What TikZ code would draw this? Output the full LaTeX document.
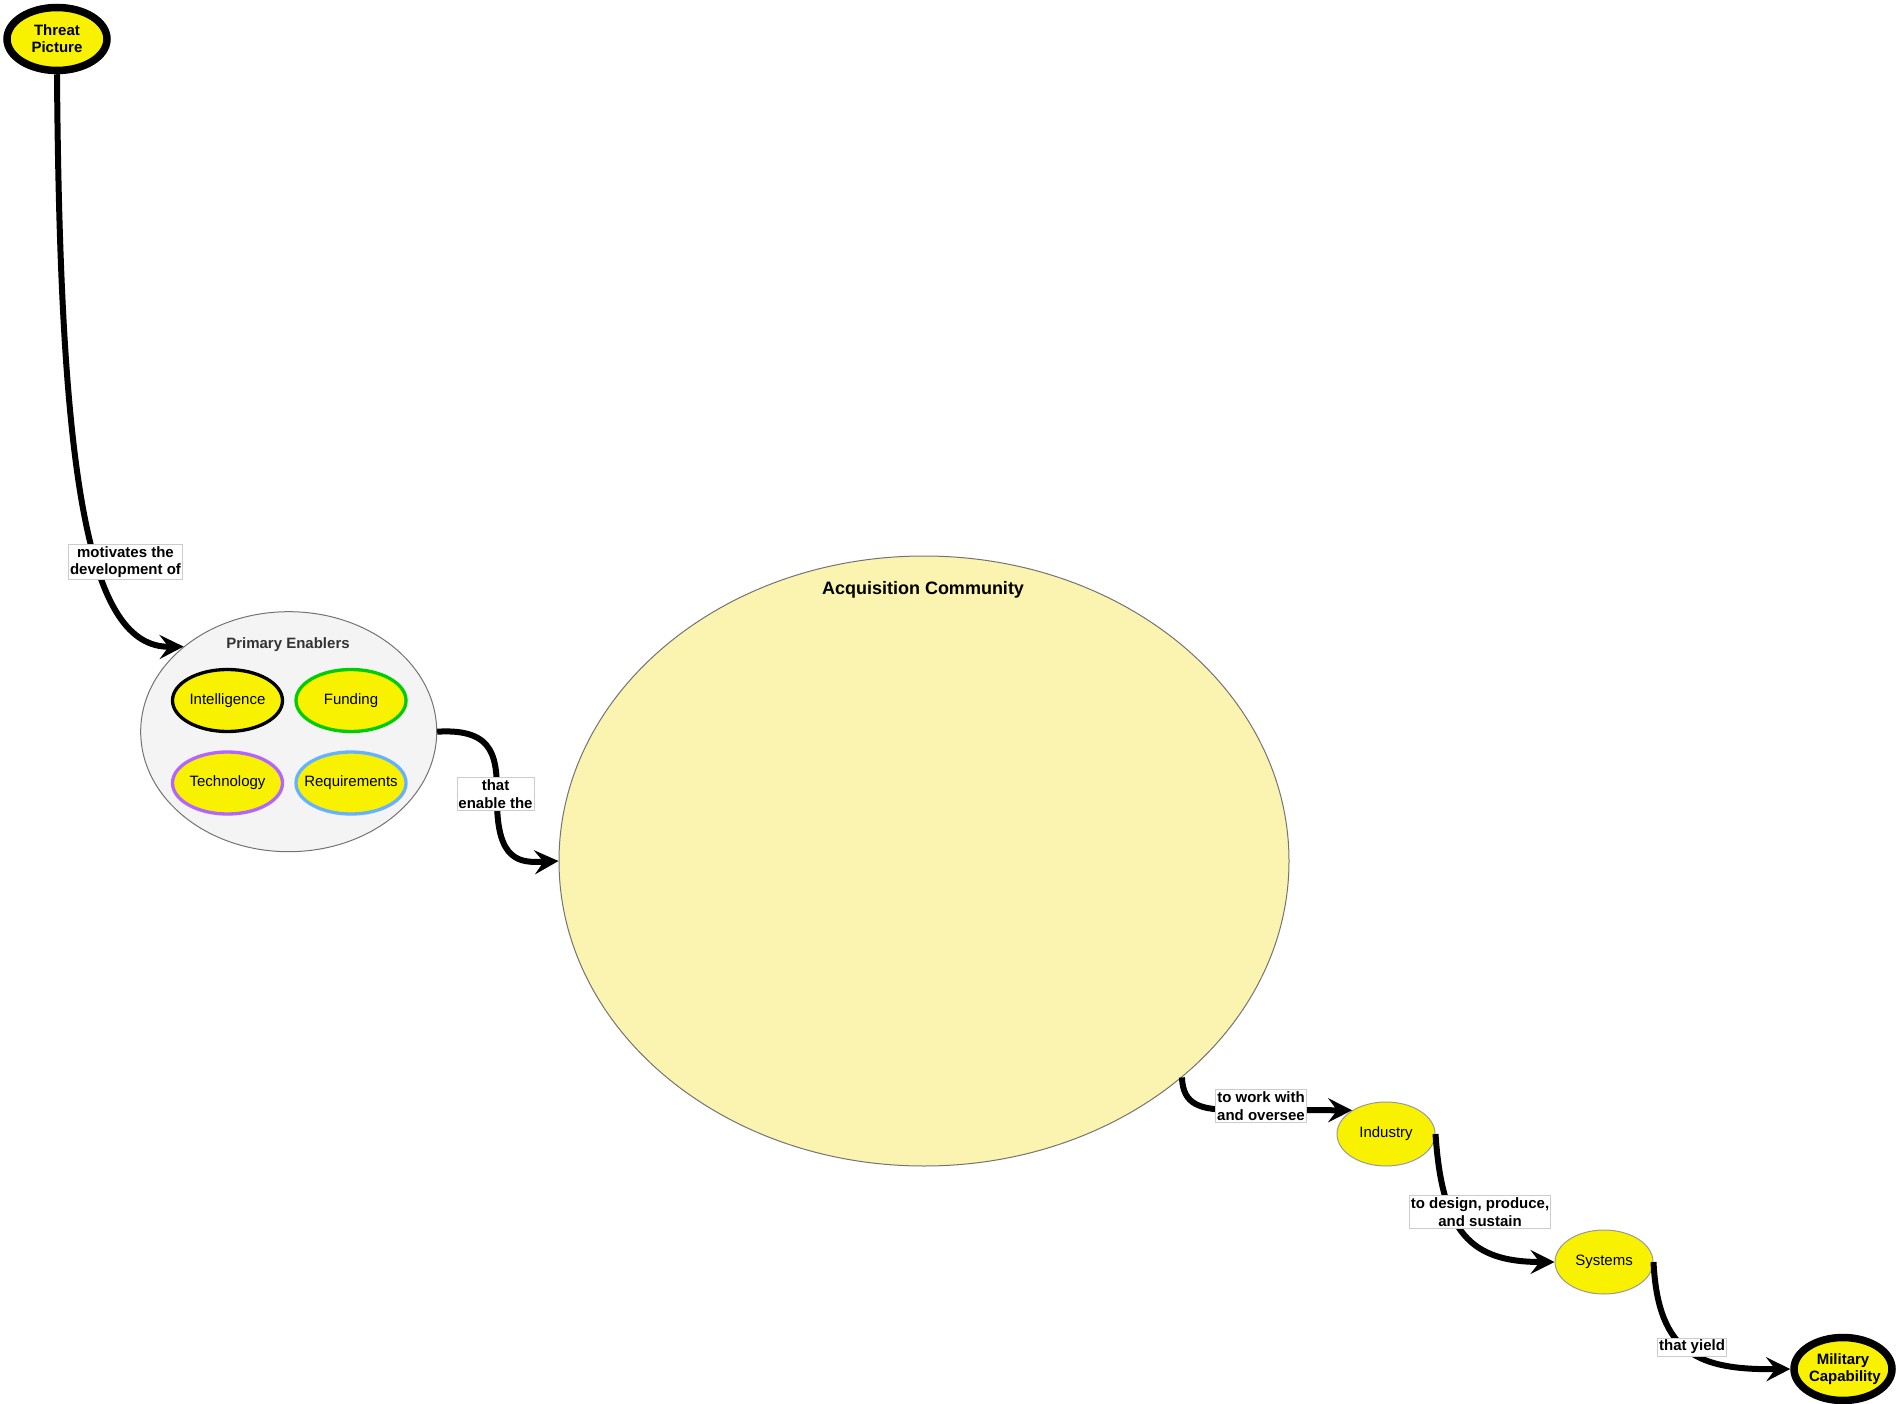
\documentclass[tikz,border=0pt]{standalone}
\usepackage{fontspec}
\setmainfont{Liberation Sans}
\usetikzlibrary{shapes.geometric,arrows.meta}
\definecolor{ylw}{RGB}{248,242,0}
\definecolor{acfill}{RGB}{250,244,176}
\definecolor{pefill}{RGB}{244,244,244}
\definecolor{grn}{RGB}{0,204,0}
\definecolor{prp}{RGB}{178,102,255}
\definecolor{blu}{RGB}{102,178,255}
\tikzset{
  ell/.style={ellipse, inner sep=0pt, align=center, font=\fontsize{15}{17}\selectfont},
  yell/.style={ell, fill=ylw},
  keynode/.style={yell, draw=black, line width=7.5pt, minimum width=98pt, minimum height=63pt, text width=68pt, font=\bfseries\fontsize{15}{17}\selectfont},
  enabler/.style={yell, line width=3.3pt, minimum width=110pt, minimum height=62pt},
  plain/.style={yell, draw=gray!80, line width=1pt, minimum width=98pt, minimum height=64pt},
  conn/.style={line width=6pt, -{Stealth[length=24pt,width=24pt,inset=9pt]}},
  lbl/.style={fill=white, draw=black!20, line width=0.8pt, inner xsep=1.5pt, inner ysep=2pt, align=center, font=\bfseries\fontsize{15}{17.5}\selectfont},
  ttl/.style={font=\bfseries\fontsize{15}{17}\selectfont}
}
\begin{document}
\begin{tikzpicture}[x=1pt,y=-1pt]
\useasboundingbox (0,0) rectangle (1896,1404);
% containers
\node[ell, fill=pefill, draw=black!55, line width=1pt, minimum width=296pt, minimum height=240pt] (PE) at (288.7,731.7) {};
\node[ell, fill=acfill, draw=black!55, line width=1pt, minimum width=730pt, minimum height=610pt] (AC) at (924,861) {};
\node[ttl, text=black!80] (PEt) at (288,645) {Primary Enablers};
\node[font=\bfseries\fontsize{18}{20}\selectfont] (ACt) at (923,590) {Acquisition Community};
% enablers
\node[enabler, draw=black] (Int) at (227.5,700.5) {\makebox[0pt]{Intelligence}};
\node[enabler, draw=grn] (Fun) at (351,700.5) {\makebox[0pt]{Funding}};
\node[enabler, draw=prp] (Tec) at (227.5,783) {\makebox[0pt]{Technology}};
\node[enabler, draw=blu] (Req) at (351,783) {\makebox[0pt]{Requirements}};
% key nodes
\node[keynode, minimum width=100pt] (TP) at (57,39) {Threat\\Picture};
\node[keynode] (MC) at (1843,1369) {Military\\Capability};
\node[plain] (Ind) at (1386,1134) {Industry};
\node[plain] (Sys) at (1604,1262) {Systems};
% connectors
\draw[conn] (TP.south) .. controls (60,480) and (88,648) .. (PE.141);
\draw[conn] (PE.east) .. controls (497,728) and (497,760) .. (497,800) .. controls (497,862) and (520,863) .. (AC.west);
\draw[conn] (AC.-40) .. controls (1183,1105) and (1200,1110) .. (1235,1110) -- (Ind.145);
\draw[conn] (Ind.east) .. controls (1442,1232) and (1470,1262) .. (Sys.west);
\draw[conn] (Sys.east) .. controls (1658,1355) and (1700,1370) .. (MC.west);
% labels
\node[lbl] (l1) at (125.5,562) {motivates the\\development of};
\node[lbl] (l2) at (495.5,794) {that\\enable the};
\node[lbl] (l3) at (1261,1106) {to work with\\and oversee};
\node[lbl] (l4) at (1480,1212) {to design, produce,\\and sustain};
\node[lbl] (l5) at (1692,1347) {that yield};
\end{tikzpicture}
\end{document}
